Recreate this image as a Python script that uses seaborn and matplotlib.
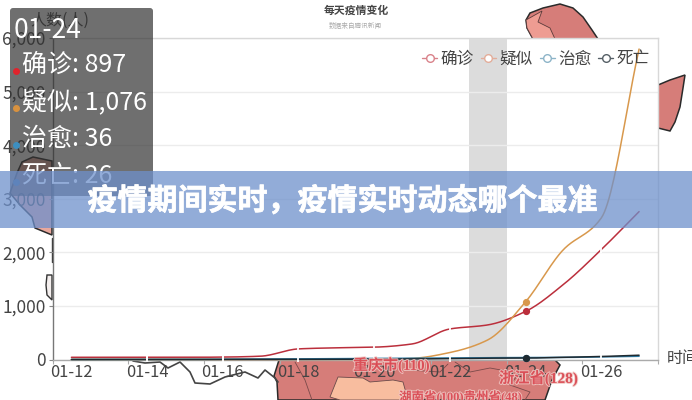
import numpy as np
import pandas as pd
import matplotlib
matplotlib.use('Agg')
import matplotlib.pyplot as plt
import matplotlib.patheffects as pe
from matplotlib.lines import Line2D
from matplotlib.patches import Polygon, Rectangle, FancyBboxPatch
from matplotlib.ticker import FuncFormatter
import seaborn as sns

# chart values
dates = ['01-12', '01-13', '01-14', '01-15', '01-16', '01-17', '01-18', '01-19',
         '01-20', '01-21', '01-22', '01-23', '01-24', '01-25', '01-26', '01-27']
confirmed = [41, 41, 41, 41, 45, 62, 198, 218, 230, 290, 570, 645, 897, 1400, 2050, 2760]
suspected = [0, 0, 0, 0, 0, 0, 0, 0, 0, 20, 130, 365, 1076, 2050, 2640, 5794]
cured = [0, 0, 0, 0, 5, 8, 10, 15, 20, 25, 28, 34, 36, 38, 50, 60]
dead = [1, 1, 1, 2, 2, 2, 3, 4, 6, 9, 17, 25, 26, 41, 56, 80]
series_names = ['确诊', '疑似', '治愈', '死亡']
series_colors = ['#bb2f3c', '#d8984c', '#2f7ea8', '#1f2a30']
legend_colors = ['#d9828a', '#e3ad9a', '#8db4c8', '#555f66']
y_ticks = [0, 1000, 2000, 3000, 4000, 5000, 6000]
tooltip_lines = ['确诊: 897', '疑似: 1,076', '治愈: 36', '死亡: 26']
tooltip_dots = ['#e0232c', '#d9923f', '#3d8fc0', '#2f5f8c']
break_days = ['01-14', '01-16', '01-18', '01-20', '01-22', '01-26']
headline = '疫情期间实时\uff0c疫情实时动态哪个最准'

# background map pieces, in picture pixels
map_top = [(526, 20), (530, 13), (543, 8), (560, 4), (573, 8), (583, 17), (592, 30), (598, 39), (533, 39), (527, 28)]
map_top_light = [(526, 20), (542, 11), (538, 22), (550, 28), (555, 39), (533, 39), (527, 28)]
map_right = [(658, 85), (670, 80), (685, 75), (683, 88), (680, 107), (675, 122), (670, 131), (658, 128)]
map_left = [(22, 162), (33, 157), (52, 161), (52, 235), (35, 228), (32, 217), (20, 205), (10, 193), (17, 173)]
map_bottom = [(279, 360), (555, 360), (560, 365), (552, 380), (545, 400), (278, 400), (277, 382), (274, 376)]
map_peach = [(340, 400), (330, 397), (338, 377), (363, 378), (370, 382), (393, 380), (403, 382), (408, 400)]
coast_line = [(133, 361), (145, 363), (160, 362), (168, 368), (180, 362), (190, 372), (195, 383), (210, 384),
              (225, 377), (245, 372), (258, 378), (265, 370), (275, 378), (278, 382)]
border_lines = [[(295, 362), (305, 380), (312, 400)], [(455, 362), (470, 372), (490, 368), (512, 372)],
                [(520, 372), (510, 385), (530, 392), (525, 400)], [(408, 370), (440, 372), (448, 364)]]
left_islet = [(47, 275), (52, 275), (52, 300), (47, 295), (46, 285)]


def smooth_curve(values, n=24):
    # monotone cubic so the lines bend like the smoothed original
    y = np.asarray(values, dtype=float)
    d = np.diff(y)
    m = np.zeros_like(y)
    for i in range(1, len(y) - 1):
        if d[i - 1] * d[i] > 0:
            m[i] = 2 * d[i - 1] * d[i] / (d[i - 1] + d[i])
    m[0], m[-1] = d[0], d[-1]
    xs, ys = [], []
    for i in range(len(y) - 1):
        t = np.linspace(0, 1, n, endpoint=False)
        ys.append((2*t**3 - 3*t**2 + 1) * y[i] + (t**3 - 2*t**2 + t) * m[i]
                  + (-2*t**3 + 3*t**2) * y[i + 1] + (t**3 - t**2) * m[i + 1])
        xs.append(i + t)
    return np.append(np.concatenate(xs), len(y) - 1), np.append(np.concatenate(ys), y[-1])


sns.set_theme(style='white')
plt.rcParams['font.family'] = ['Noto Sans CJK SC', 'DejaVu Sans']

W, H = 692, 400
fig = plt.figure(figsize=(W / 100, H / 100), dpi=100)

# full figure layer for the picture behind the chart
bg = fig.add_axes([0, 0, 1, 1], zorder=0)
bg.set_xlim(0, W)
bg.set_ylim(H, 0)
bg.axis('off')
salmon = '#d67d79'
for pts, col in [(map_top, salmon), (map_right, salmon), (map_left, '#e8a79c'), (map_bottom, salmon)]:
    bg.add_patch(Polygon(pts, closed=True, fc=col, ec='#2a2a2a', lw=1.1))
bg.add_patch(Polygon(map_top_light, closed=True, fc='#ee9c92', ec='#5a3a3a', lw=0.6))
bg.add_patch(Polygon(map_peach, closed=True, fc='#f8bd9f', ec='#6a4a4a', lw=0.6))
bg.add_patch(Polygon(left_islet, closed=True, fc='#f4efee', ec='#333333', lw=1.0))
bg.plot(*zip(*coast_line), color='#444444', lw=1.2)
bg.plot([52, 52], [238, 262], color='#333333', lw=1.0)
for line in border_lines:
    bg.plot(*zip(*line), color='#7a4a4a', lw=0.6)

# chart axes, white plot area hides the map
x0, x1, y_top, y_zero = 52.5, 658, 38, 359.5
ax = fig.add_axes([x0 / W, 1 - y_zero / H, (x1 - x0) / W, (y_zero - y_top) / H], zorder=1)
ax.set_facecolor('white')

rows = []
for name, vals in zip(series_names, [confirmed, suspected, cured, dead]):
    xs, ys = smooth_curve(vals)
    rows.append(pd.DataFrame({'x': xs, 'y': ys, 'series': name}))
long_df = pd.concat(rows, ignore_index=True)

day = dates.index('01-23')
ax.axvspan(day - 0.5, day + 0.5, color='#dcdcdc', lw=0, zorder=0.5)
sns.lineplot(data=long_df, x='x', y='y', hue='series', palette=dict(zip(series_names, series_colors)),
             hue_order=series_names, legend=False, lw=1.1, ax=ax, clip_on=False, zorder=3)

# small white nicks the original shows along the confirmed and death lines
for d in break_days:
    i = dates.index(d)
    ax.plot([i, i], [confirmed[i], dead[i]], ls='none', marker='|', ms=5, mew=1.3, color='white',
            zorder=3.5, clip_on=False)

hover = dates.index('01-24')
for vals, col in zip([confirmed, suspected, cured, dead], series_colors):
    ax.plot(hover, vals[hover], 'o', ms=4.2, color=col, zorder=4, clip_on=False)

ax.set_xlim(-0.5, 15.5)
ax.set_ylim(0, 6000)
ax.set_xlabel('')
ax.set_ylabel('')
ax.set_xticks(range(0, 16, 2))
ax.set_xticklabels(dates[::2])
ax.set_xticks(np.arange(-0.5, 16, 2), minor=True)
ax.set_yticks(y_ticks)
ax.yaxis.set_major_formatter(FuncFormatter(lambda v, p: f'{int(v):,}'))
ax.tick_params(axis='x', which='major', length=0, labelsize=11.8, labelcolor='#444444', pad=3)
ax.tick_params(axis='x', which='minor', length=3, color='#aaaaaa', bottom=True, width=0.8)
ax.tick_params(axis='y', length=3, color='#888888', labelsize=12.5, labelcolor='#444444', pad=2, left=True, width=0.8)
ax.grid(axis='y', color='#ececec', lw=1)
ax.set_axisbelow(True)
for side, col in [('left', '#777777'), ('bottom', '#aaaaaa'), ('top', '#d8d8d8'), ('right', '#d8d8d8')]:
    ax.spines[side].set_visible(True)
    ax.spines[side].set_color(col)
    ax.spines[side].set_linewidth(1)

handles = [Line2D([], [], color=c, lw=1, marker='o', ms=5.5, mfc='white', mec=c, mew=1) for c in legend_colors]
leg = ax.legend(handles, series_names, ncol=4, frameon=False, loc='upper right', bbox_to_anchor=(1.0, 0.985),
                fontsize=12, handlelength=0.9, handletextpad=0.2, columnspacing=0.42, borderaxespad=0.1,
                labelcolor='#444444')
leg.set_zorder(5)

# top layer: titles, tooltip, banner
top = fig.add_axes([0, 0, 1, 1], zorder=2)
top.set_xlim(0, W)
top.set_ylim(H, 0)
top.axis('off')
top.patch.set_alpha(0)

top.text(356, 11, '每天疫情变化', ha='center', va='center', fontsize=7.8, fontweight='bold', color='#444444')
top.text(355, 26, '数据来自腾讯新闻', ha='center', va='center', fontsize=4.8, color='#aaaaaa')
top.text(30, 20, '人数(人)', ha='left', va='center', fontsize=11.5, color='#444444')
top.text(667, 359, '时间', ha='left', va='center', fontsize=11.5, color='#444444', clip_on=True)

halo = [pe.withStroke(linewidth=1.4, foreground='#f0c8c4')]
for tx, ty, label, size in [(353, 365, '重庆市(110)', 10.8), (499, 378, '浙江省(128)', 11),
                            (399, 397, '湖南省(100)贵州省(48)', 9)]:
    top.text(tx, ty, label, ha='left', va='center', fontsize=size, fontweight='bold', color='#d8404a',
             alpha=0.85, family=['Liberation Serif', 'Noto Sans CJK SC'], path_effects=halo)

top.add_patch(FancyBboxPatch((10, 8), 143, 188, boxstyle='round,pad=0,rounding_size=3',
                             fc='#323232', ec='none', alpha=0.7, zorder=5))
top.text(14, 30, dates[hover], ha='left', va='center', fontsize=19, color='white', zorder=6)
for i, (line, dot) in enumerate(zip(tooltip_lines, tooltip_dots)):
    ypos = 65 + i * 37
    top.text(22, ypos, line, ha='left', va='center', fontsize=18, color='white', zorder=6)
    top.plot(16, ypos + 6, 'o', ms=4, color=dot, zorder=6)

top.add_patch(Rectangle((0, 171), W, 57, fc='#6e90cb', ec='none', alpha=0.75, zorder=7))
top.text(342.5, 201, headline, ha='center', va='center', fontsize=21.6,
         fontweight='bold', color='white', zorder=8,
         path_effects=[pe.withStroke(linewidth=0.5, foreground='white')])

fig.savefig('out.png', dpi=100)
plt.close(fig)
